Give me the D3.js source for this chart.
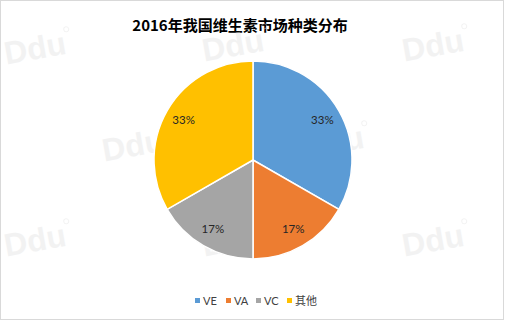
<!DOCTYPE html>
<html>
<head>
<meta charset="utf-8">
<script src="https://cdn.jsdelivr.net/npm/d3@7"></script>
<style>
  body { margin: 0; background: #fff; }
  svg { display: block; }
</style>
</head>
<body>
<svg width="506" height="321"></svg>
<script>
// данные диаграммы
const categories = ['VE', 'VA', 'VC', '其他'];
const shares = [33.3, 16.7, 16.7, 33.3];
const colors = ['#5b9bd5', '#ed7d31', '#a5a5a5', '#ffc000'];
const title = '2016年我国维生素市场种类分布';

const svg = d3.select('svg');
const cx = 253, cy = 160, R = 99;

// рамка
svg.append('rect')
  .attr('x', 0.5).attr('y', 0.5)
  .attr('width', 503).attr('height', 319)
  .attr('fill', '#fff').attr('stroke', '#d9d9d9');

svg.append('text')
  .attr('x', 240).attr('y', 31)
  .attr('text-anchor', 'middle')
  .attr('font-family', '"Noto Sans CJK SC", sans-serif')
  .attr('font-weight', 'bold')
  .attr('font-size', 15)
  .attr('fill', '#000')
  .text(title);

const data = categories.map((c, i) => ({name: c, value: shares[i], color: colors[i]}));
const pie = d3.pie().sort(null).value(d => d.value);
const arcs = pie(data);
const total = d3.sum(shares);

const arc = d3.arc().innerRadius(0).outerRadius(R);
const labelArc = d3.arc().innerRadius(R * 0.81).outerRadius(R * 0.81);

const g = svg.append('g').attr('transform', `translate(${cx},${cy})`);
g.selectAll('path')
  .data(arcs)
  .join('path')
  .attr('d', arc)
  .attr('fill', d => d.data.color)
  .attr('stroke', '#fff')
  .attr('stroke-width', 1.5);

// водяные знаки
const marks = [
  [35, 48], [233, 45], [433, 45],
  [133, 145], [333, 142],
  [35, 240], [233, 240], [433, 240]
];
const wm = svg.append('g').attr('pointer-events', 'none');
marks.forEach(([x, y]) => {
  const m = wm.append('g').attr('transform', `translate(${x},${y}) rotate(-10)`);
  m.append('text')
    .attr('text-anchor', 'middle')
    .attr('dy', '0.35em')
    .attr('font-family', '"Liberation Sans", Arial, sans-serif')
    .attr('font-weight', 'bold')
    .attr('font-size', 32)
    .attr('fill', '#e4e4e4')
    .attr('opacity', 0.45)
    .text('Ddu');
  m.append('circle')
    .attr('cx', 34).attr('cy', -13).attr('r', 2.5)
    .attr('fill', 'none')
    .attr('stroke', '#e4e4e4')
    .attr('opacity', 0.45);
});

g.selectAll('text.lbl')
  .data(arcs)
  .join('text')
  .attr('class', 'lbl')
  .attr('transform', d => `translate(${labelArc.centroid(d)})`)
  .attr('text-anchor', 'middle')
  .attr('dy', '0.35em')
  .attr('font-family', 'Lato, sans-serif')
  .attr('font-size', 11.5)
  .attr('fill', '#262626')
  .text(d => Math.round(d.data.value / total * 100) + '%');
g.raise();

// легенда
const legendX = [195, 226, 256, 287];
const item = svg.append('g').selectAll('g')
  .data(data)
  .join('g')
  .attr('transform', (d, i) => `translate(${legendX[i]},300)`);
item.append('rect')
  .attr('x', 0).attr('y', -2)
  .attr('width', 5).attr('height', 5)
  .attr('fill', d => d.color);
item.append('text')
  .attr('x', 8).attr('y', 5)
  .attr('font-family', 'Lato, "Noto Sans CJK SC", sans-serif')
  .attr('font-size', 11)
  .attr('fill', '#404040')
  .text(d => d.name);
</script>
</body>
</html>
